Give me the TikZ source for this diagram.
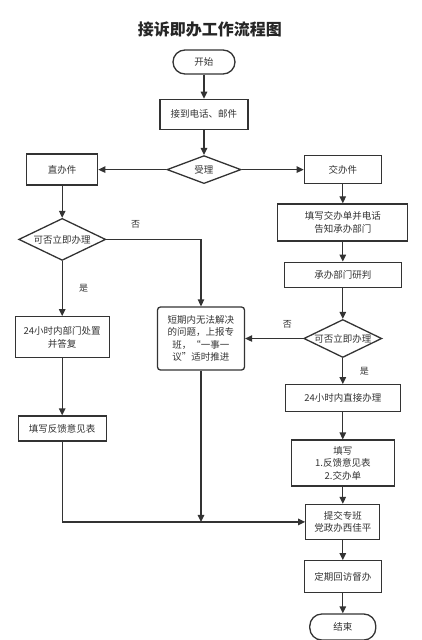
\documentclass[tikz,border=0pt]{standalone}
\usepackage{fontspec}
\setmainfont{Noto Sans CJK SC}
\usepackage{xcolor}
\usepackage{tikz}
\usetikzlibrary{shapes.geometric, arrows.meta, positioning}
\definecolor{linegray}{HTML}{333333}
\tikzstyle{startstop} = [rectangle, rounded corners=12pt, minimum width=62pt, minimum height=24pt, text centered, draw=linegray, line width=1.3pt, text=linegray, font=\fontsize{9.5}{12.5}\selectfont]
\tikzstyle{process} = [rectangle, align=center, inner sep=2pt, draw=linegray, line width=1.3pt, text=linegray, font=\fontsize{9.5}{12.5}\selectfont]
\tikzstyle{decision} = [diamond, aspect=2.2, inner sep=0pt, draw=linegray, line width=1.3pt, text=linegray, font=\fontsize{9.5}{12.5}\selectfont]
\tikzstyle{arrow} = [line width=1.3pt, draw=linegray, -{Triangle[length=7pt,width=6.5pt]}]
\tikzstyle{tag} = [text=linegray, font=\fontsize{9}{11}\selectfont]

\begin{document}
\begin{tikzpicture}
    \useasboundingbox (-204pt,62pt) rectangle (217pt,-578pt);
    % Start and title
    \node[startstop] (start) {开始};
    \node[above=9pt of start, xshift=6pt, text=black!85, font=\fontsize{16}{18}\selectfont\bfseries] (title) {接诉即办工作流程图};
    \node[process, minimum width=88pt, minimum height=30pt, below=24pt of start] (receive) {接到电话、邮件};
    \node[decision, minimum width=74pt, minimum height=28pt, below=25pt of receive] (accept) {受理};

    % Left branch
    \node[process, minimum width=71pt, minimum height=31pt, left=68pt of accept] (direct) {直办件};
    \node[decision, minimum width=87pt, minimum height=42pt, below=32pt of direct] (checkL) {可否立即办理};
    \node[process, minimum width=94pt, minimum height=41pt, below=55pt of checkL] (deal) {24小时内部门处置\\并答复};
    \node[process, minimum width=88pt, minimum height=25pt, below=57pt of deal] (feedback) {填写反馈意见表};

    % Right branch
    \node[process, minimum width=77pt, minimum height=28pt, right=62pt of accept] (assign) {交办件};
    \node[process, minimum width=130pt, minimum height=37pt, below=19pt of assign] (notify) {填写交办单并电话\\告知承办部门};
    \node[process, minimum width=117pt, minimum height=25pt, below=20pt of notify] (judge) {承办部门研判};
    \node[decision, minimum width=78pt, minimum height=38pt, below=31pt of judge] (checkR) {可否立即办理};
    \node[process, minimum width=115pt, minimum height=27pt, below=26pt of checkR] (handle) {24小时内直接办理};
    \node[process, minimum width=103pt, minimum height=46pt, below=27pt of handle] (forms) {填写\\1.反馈意见表\\2.交办单};
    \node[process, minimum width=74pt, minimum height=35pt, below=17pt of forms] (submit) {提交专班\\党政办西佳平};
    \node[process, minimum width=77pt, minimum height=32pt, below=20pt of submit] (visit) {定期回访督办};
    \node[startstop, minimum width=66pt, minimum height=26pt, below=20pt of visit] (finish) {结束};

    % Middle box
    \node[process, rounded corners=3pt, minimum width=87pt, minimum height=63pt, left=58pt of checkR] (escalate) {短期内无法解决\\的问题，上报专\\班，“一事一\\议”适时推进};

    % Flows
    \draw[arrow] (start) -- (receive);
    \draw[arrow] (receive) -- (accept);
    \draw[arrow] (accept) -- (direct);
    \draw[arrow] (accept) -- (assign);
    \draw[arrow] (direct) -- (checkL);
    \draw[arrow] (checkL) -- node[tag, right=13pt] {是} (deal);
    \draw[arrow] (checkL.east) -| node[tag, pos=0.155, above=7pt] {否} (escalate);
    \draw[arrow] (deal) -- (feedback);
    \draw[arrow] (feedback) |- (submit);
    \draw[arrow] (escalate) -- (escalate |- submit);
    \draw[arrow] (assign) -- (notify);
    \draw[arrow] (notify) -- (judge);
    \draw[arrow] (judge) -- (checkR);
    \draw[arrow] (checkR) -- node[tag, pos=0.27, above=6pt] {否} (escalate);
    \draw[arrow] (checkR) -- node[tag, right=13pt] {是} (handle);
    \draw[arrow] (handle) -- (forms);
    \draw[arrow] (forms) -- (submit);
    \draw[arrow] (submit) -- (visit);
    \draw[arrow] (visit) -- (finish);

\end{tikzpicture}
\end{document}
